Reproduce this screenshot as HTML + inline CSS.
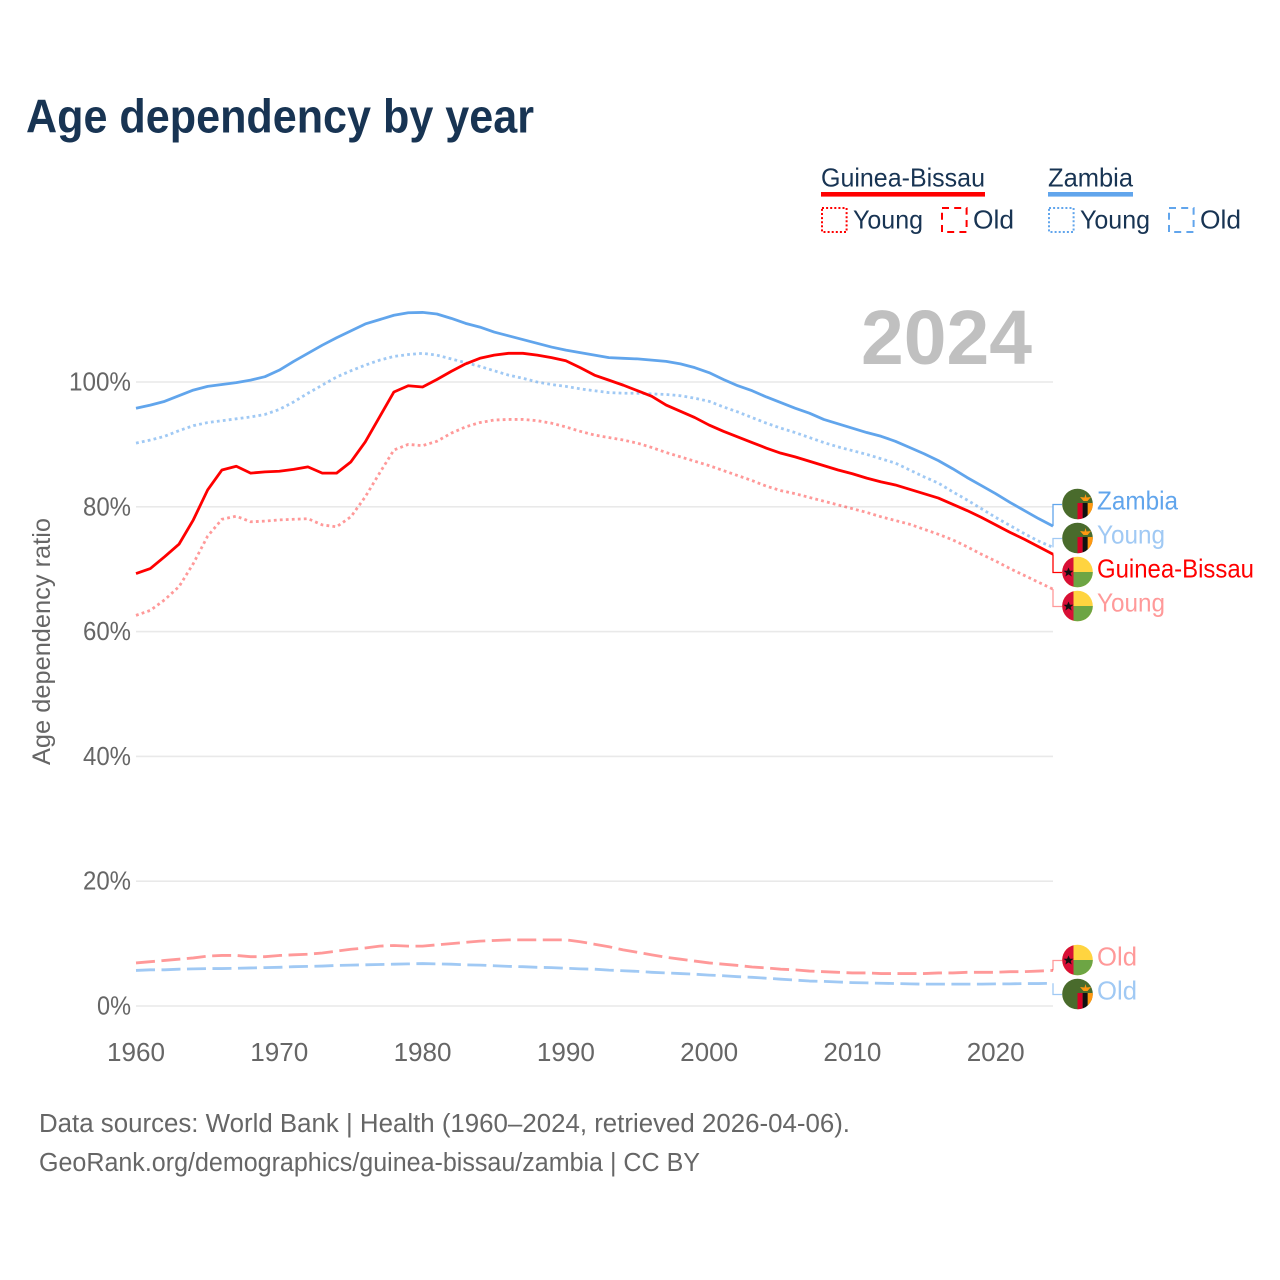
<!DOCTYPE html>
<html lang="en">
<head>
<meta charset="utf-8">
<title>Age dependency by year</title>
<style>
html,body{margin:0;padding:0;background:#fff;}
svg{display:block;font-family:"Liberation Sans",sans-serif;}
</style>
</head>
<body>
<svg id="chart" xmlns="http://www.w3.org/2000/svg" width="1280" height="1280" viewBox="0 0 1280 1280">
  <defs>
    <clipPath id="flag-clip"><circle cx="0" cy="0" r="15.3"></circle></clipPath>
  </defs>
  <rect x="0" y="0" width="1280" height="1280" fill="#ffffff"></rect>
  <text x="26" y="132.7" font-size="47" font-weight="700" fill="#183453" textLength="508" lengthAdjust="spacingAndGlyphs">Age dependency by year</text>

  <g>
    <text x="821" y="186.5" font-size="26" fill="#183453" textLength="164" lengthAdjust="spacingAndGlyphs">Guinea-Bissau</text>
    <rect x="821" y="192" width="164" height="4.6" fill="#ff0000"></rect>
    <rect x="822" y="208" width="24.6" height="24" fill="none" stroke="#ff0000" stroke-width="2" stroke-dasharray="2 2.1"></rect>
    <text x="853" y="228.5" font-size="26" fill="#183453" textLength="70" lengthAdjust="spacingAndGlyphs">Young</text>
    <rect x="942" y="208" width="24.6" height="24" fill="none" stroke="#ff0000" stroke-width="2" stroke-dasharray="7 5.2"></rect>
    <text x="973" y="228.5" font-size="26" fill="#183453" textLength="41" lengthAdjust="spacingAndGlyphs">Old</text>
    <text x="1048" y="186.5" font-size="26" fill="#183453" textLength="85" lengthAdjust="spacingAndGlyphs">Zambia</text>
    <rect x="1048" y="192" width="85" height="4.6" fill="#61a5ec"></rect>
    <rect x="1049" y="208" width="24.6" height="24" fill="none" stroke="#61a5ec" stroke-width="2" stroke-dasharray="2 2.1"></rect>
    <text x="1080" y="228.5" font-size="26" fill="#183453" textLength="70" lengthAdjust="spacingAndGlyphs">Young</text>
    <rect x="1169" y="208" width="24.6" height="24" fill="none" stroke="#61a5ec" stroke-width="2" stroke-dasharray="7 5.2"></rect>
    <text x="1200" y="228.5" font-size="26" fill="#183453" textLength="41" lengthAdjust="spacingAndGlyphs">Old</text>
  </g>

  <text transform="translate(50,641.5) rotate(-90)" text-anchor="middle" font-size="25" fill="#666666" textLength="247" lengthAdjust="spacingAndGlyphs">Age dependency ratio</text>

  <g id="grid"></g>
  <g id="y-ticks"></g>
  <g id="x-ticks"></g>

  <text x="861" y="364" font-size="77" font-weight="700" fill="#c0c0c0" textLength="171" lengthAdjust="spacingAndGlyphs">2024</text>

  <g id="series"></g>
  <g id="end-labels"></g>

  <text x="39" y="1132" font-size="25.5" fill="#666666" textLength="811" lengthAdjust="spacingAndGlyphs">Data sources: World Bank | Health (1960–2024, retrieved 2026-04-06).</text>
  <text x="39" y="1171" font-size="25.5" fill="#666666" textLength="661" lengthAdjust="spacingAndGlyphs">GeoRank.org/demographics/guinea-bissau/zambia | CC BY</text>
</svg>
<script>
const years = [1960,1961,1962,1963,1964,1965,1966,1967,1968,1969,1970,1971,1972,1973,1974,1975,1976,1977,1978,1979,1980,1981,1982,1983,1984,1985,1986,1987,1988,1989,1990,1991,1992,1993,1994,1995,1996,1997,1998,1999,2000,2001,2002,2003,2004,2005,2006,2007,2008,2009,2010,2011,2012,2013,2014,2015,2016,2017,2018,2019,2020,2021,2022,2023,2024];
const xTickLabels = [1960,1970,1980,1990,2000,2010,2020];
const yTickLabels = [0,20,40,60,80,100];

const zambiaTotal = [95.8,96.3,96.9,97.8,98.7,99.3,99.6,99.9,100.3,100.85,101.9,103.3,104.6,105.9,107.1,108.2,109.3,110.0,110.7,111.1,111.15,110.9,110.2,109.4,108.8,108.0,107.4,106.8,106.2,105.6,105.1,104.7,104.3,103.9,103.8,103.7,103.5,103.3,102.9,102.3,101.5,100.4,99.4,98.6,97.6,96.7,95.8,95.0,94.0,93.3,92.6,91.9,91.3,90.5,89.5,88.5,87.4,86.1,84.7,83.4,82.1,80.7,79.4,78.1,76.9];
const zambiaYoung = [90.2,90.7,91.3,92.2,93.0,93.5,93.8,94.1,94.4,94.8,95.6,96.8,98.2,99.5,100.8,101.8,102.7,103.5,104.1,104.4,104.6,104.3,103.7,103.1,102.5,101.8,101.1,100.6,100.0,99.6,99.3,98.9,98.6,98.3,98.2,98.2,98.1,98.0,97.8,97.4,96.9,96.0,95.2,94.3,93.4,92.6,91.9,91.1,90.3,89.6,89.0,88.4,87.7,87.0,85.9,84.8,83.8,82.4,81.1,79.7,78.3,77.0,75.7,74.5,73.5];
const zambiaOld = [5.7,5.8,5.8,5.9,5.95,6.0,6.0,6.05,6.1,6.15,6.2,6.3,6.35,6.4,6.5,6.55,6.6,6.65,6.7,6.75,6.8,6.75,6.7,6.6,6.55,6.45,6.35,6.3,6.2,6.15,6.05,5.95,5.9,5.75,5.65,5.55,5.4,5.3,5.2,5.1,4.95,4.85,4.7,4.6,4.45,4.3,4.15,4.0,3.95,3.85,3.75,3.7,3.65,3.6,3.55,3.5,3.5,3.5,3.5,3.5,3.55,3.55,3.6,3.6,3.65];
const bissauTotal = [69.3,70.1,72.0,74.0,77.9,82.7,85.9,86.5,85.4,85.6,85.7,86.0,86.4,85.4,85.4,87.2,90.4,94.4,98.4,99.4,99.2,100.4,101.7,102.9,103.8,104.3,104.6,104.6,104.3,103.9,103.4,102.3,101.1,100.3,99.5,98.6,97.7,96.3,95.3,94.3,93.1,92.1,91.2,90.3,89.4,88.6,88.0,87.3,86.6,85.9,85.3,84.6,84.0,83.5,82.8,82.1,81.4,80.4,79.4,78.3,77.1,75.9,74.8,73.6,72.4];
const bissauYoung = [62.6,63.4,65.1,67.2,70.9,75.3,78.0,78.5,77.6,77.7,77.9,78.0,78.1,77.1,76.8,78.4,81.6,85.4,89.1,90.0,89.8,90.5,91.8,92.8,93.5,93.9,94.0,94.0,93.8,93.4,92.8,92.1,91.5,91.1,90.7,90.2,89.5,88.7,88.0,87.3,86.6,85.8,85.0,84.2,83.3,82.6,82.1,81.5,80.9,80.3,79.7,79.1,78.4,77.8,77.2,76.4,75.6,74.7,73.6,72.4,71.3,70.1,69.0,67.9,66.8];
const bissauOld = [6.9,7.1,7.3,7.5,7.7,8.0,8.1,8.1,7.9,7.9,8.1,8.2,8.3,8.5,8.8,9.1,9.3,9.6,9.7,9.6,9.6,9.8,10.0,10.2,10.4,10.5,10.6,10.6,10.6,10.6,10.6,10.3,9.9,9.5,9.0,8.6,8.2,7.8,7.5,7.2,6.9,6.7,6.5,6.25,6.1,5.9,5.8,5.6,5.5,5.4,5.3,5.3,5.2,5.2,5.2,5.2,5.3,5.3,5.4,5.4,5.4,5.5,5.5,5.6,5.7];

const SVGNS = 'http://www.w3.org/2000/svg';
function xScale(year){ return 136 + (year - 1960) * (917 / 64); }
function yScale(value){ return 1006 - value * 6.24; }
function make(tag){ return document.createElementNS(SVGNS, tag); }
function polyline(values){
  return values.map(function(v, i){
    return (i ? 'L' : 'M') + xScale(years[i]).toFixed(2) + ' ' + yScale(v).toFixed(2);
  }).join(' ');
}

const gridLayer = document.getElementById('grid');
const yTickLayer = document.getElementById('y-ticks');
yTickLabels.forEach(function(t){
  const line = make('line');
  
  
  line.setAttribute('x1', xScale(1960));
  line.setAttribute('x2', xScale(2024));
  line.setAttribute('y1', yScale(t));
  line.setAttribute('y2', yScale(t));
  line.setAttribute('stroke', '#e9e9e9');
  line.setAttribute('stroke-width', '1.6');
  gridLayer.appendChild(line);

  const label = make('text');
  
  
  label.setAttribute('x', 131);
  label.setAttribute('y', yScale(t) + 8.5);
  label.setAttribute('text-anchor', 'end');
  label.setAttribute('font-size', '25.5');
  label.setAttribute('fill', '#666666');
  label.setAttribute('textLength', String(t).length * 14 + 20);
  label.setAttribute('lengthAdjust', 'spacingAndGlyphs');
  label.textContent = t + '%';
  yTickLayer.appendChild(label);
});

const xTickLayer = document.getElementById('x-ticks');
xTickLabels.forEach(function(t){
  const label = make('text');
  
  
  label.setAttribute('x', xScale(t));
  label.setAttribute('y', 1061);
  label.setAttribute('text-anchor', 'middle');
  label.setAttribute('font-size', '25.5');
  label.setAttribute('fill', '#666666');
  label.setAttribute('textLength', '58');
  label.setAttribute('lengthAdjust', 'spacingAndGlyphs');
  label.textContent = t;
  xTickLayer.appendChild(label);
});

const RED = '#ff0000';
const BLUE = '#61a5ec';
const seriesList = [
  {key:'zambia-old', values:zambiaOld, color:BLUE, opacity:0.6, dash:'19 6.5', width:2.8, flag:'zambia', text:'Old', tw:40},
  {key:'bissau-old', values:bissauOld, color:RED, opacity:0.4, dash:'19 6.5', width:2.8, flag:'bissau', text:'Old', tw:40},
  {key:'bissau-young', values:bissauYoung, color:RED, opacity:0.4, dash:'2.8 3.2', width:2.8, flag:'bissau', text:'Young', tw:68},
  {key:'zambia-young', values:zambiaYoung, color:BLUE, opacity:0.6, dash:'2.8 3.2', width:2.8, flag:'zambia', text:'Young', tw:68},
  {key:'bissau-total', values:bissauTotal, color:RED, opacity:1, dash:null, width:2.8, flag:'bissau', text:'Guinea-Bissau', tw:157},
  {key:'zambia-total', values:zambiaTotal, color:BLUE, opacity:1, dash:null, width:2.8, flag:'zambia', text:'Zambia', tw:81}
];

const seriesLayer = document.getElementById('series');
seriesList.forEach(function(s){
  const path = make('path');
  
  
  path.setAttribute('d', polyline(s.values));
  path.setAttribute('fill', 'none');
  path.setAttribute('stroke', s.color);
  path.setAttribute('stroke-opacity', s.opacity);
  path.setAttribute('stroke-width', s.width);
  path.setAttribute('stroke-linejoin', 'round');
  if (s.dash) path.setAttribute('stroke-dasharray', s.dash);
  seriesLayer.appendChild(path);
});

/* end labels: merge overlapping labels into evenly spaced clusters centred on their data */
const SPACING = 34;
let clusters = seriesList.map(function(s){
  return {items:[s], mean:yScale(s.values[s.values.length - 1])};
}).sort(function(a, b){ return a.mean - b.mean; });
let merged = true;
while (merged) {
  merged = false;
  for (let i = 0; i < clusters.length - 1; i++) {
    const a = clusters[i], b = clusters[i + 1];
    const aBottom = a.mean + (a.items.length - 1) * SPACING / 2;
    const bTop = b.mean - (b.items.length - 1) * SPACING / 2;
    if (bTop - aBottom < SPACING) {
      const items = a.items.concat(b.items);
      const mean = (a.mean * a.items.length + b.mean * b.items.length) / items.length;
      clusters.splice(i, 2, {items:items, mean:mean});
      merged = true;
      break;
    }
  }
}

function addRect(parent, x, y, w, h, fill){
  const r = make('rect');
  
  
  r.setAttribute('x', x);
  r.setAttribute('y', y);
  r.setAttribute('width', w);
  r.setAttribute('height', h);
  r.setAttribute('fill', fill);
  parent.appendChild(r);
}
function drawFlag(parent, kind, cx, cy){
  const g = make('g');
  
  
  g.setAttribute('transform', 'translate(' + cx + ',' + cy + ')');
  g.setAttribute('clip-path', 'url(#flag-clip)');
  if (kind === 'zambia') {
    addRect(g, -16, -16, 32, 32, '#496b2c');
    addRect(g, 0, -1, 5.2, 17, '#d80027');
    addRect(g, 5.2, -1, 5, 17, '#111111');
    addRect(g, 10.2, -1, 6, 17, '#ff9811');
    const eagle = make('polygon');
    
    
    eagle.setAttribute('points', '2.5,-7 7,-6.5 8,-10 9,-6.5 13.5,-7 10,-3 6,-3');
    eagle.setAttribute('fill', '#ff9811');
    g.appendChild(eagle);
  } else {
    addRect(g, -16, -16, 32, 32, '#ffd440');
    addRect(g, -4, 0, 20, 16, '#6da544');
    addRect(g, -16, -16, 12, 32, '#d80f36');
    const star = make('polygon');
    
    
    star.setAttribute('points', '-9,-4.5 -7.6,-1.2 -4,-1.2 -6.8,1 -5.8,4.5 -9,2.4 -12.2,4.5 -11.2,1 -14,-1.2 -10.4,-1.2');
    star.setAttribute('fill', '#111111');
    g.appendChild(star);
  }
  parent.appendChild(g);
}

const labelLayer = document.getElementById('end-labels');
clusters.forEach(function(c){
  const top = c.mean - (c.items.length - 1) * SPACING / 2;
  c.items.forEach(function(s, i){
    const cy = Math.round(top + i * SPACING + 0.4);
    const endY = yScale(s.values[s.values.length - 1]);

    const conn = make('path');
    
    
    conn.setAttribute('d', 'M' + xScale(2024) + ' ' + endY.toFixed(2) + ' V' + (cy + 0.5) + ' H1062');
    conn.setAttribute('fill', 'none');
    conn.setAttribute('stroke', s.color);
    conn.setAttribute('stroke-opacity', s.opacity);
    conn.setAttribute('stroke-width', '1.3');
    labelLayer.appendChild(conn);

    drawFlag(labelLayer, s.flag, 1077.5, cy);

    const label = make('text');
    
    
    label.setAttribute('x', 1097);
    label.setAttribute('y', cy + 5.5);
    label.setAttribute('font-size', '26');
    label.setAttribute('fill', s.color);
    label.setAttribute('fill-opacity', s.opacity);
    label.setAttribute('textLength', s.tw);
    label.setAttribute('lengthAdjust', 'spacingAndGlyphs');
    label.textContent = s.text;
    labelLayer.appendChild(label);
  });
});
</script>
</body>
</html>
